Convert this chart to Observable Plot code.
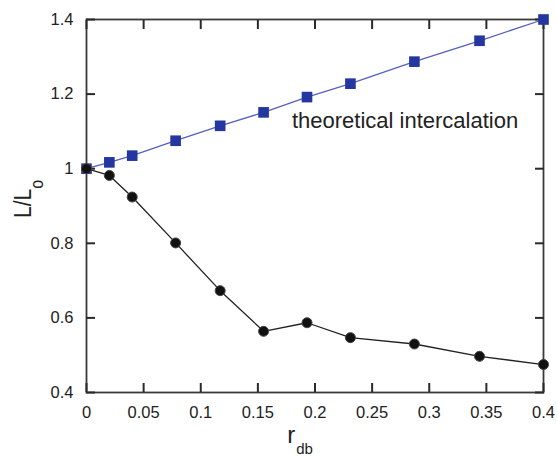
<!DOCTYPE html>
<html>
<head>
<meta charset="utf-8">
<script src="https://cdn.jsdelivr.net/npm/d3@7"></script>
<script src="https://cdn.jsdelivr.net/npm/@observablehq/plot@0.6"></script>
<style>
body { margin: 0; background: #fff; }
#chart svg { font-family: "Liberation Sans", Arial, sans-serif; }
</style>
</head>
<body>
<div id="chart"></div>
<script>
const rdb = [0, 0.02, 0.04, 0.078, 0.117, 0.155, 0.193, 0.231, 0.287, 0.344, 0.4];
const theoretical = [1.0, 1.017, 1.035, 1.075, 1.115, 1.151, 1.192, 1.228, 1.287, 1.343, 1.4];
const measured = [1.0, 0.982, 0.924, 0.801, 0.673, 0.564, 0.587, 0.547, 0.530, 0.497, 0.475];
const xTicks = [0, 0.05, 0.1, 0.15, 0.2, 0.25, 0.3, 0.35, 0.4];
const yTicks = [0.4, 0.6, 0.8, 1, 1.2, 1.4];
const annotation = "theoretical intercalation";

const theo = rdb.map((x, i) => ({x, y: theoretical[i]}));
const meas = rdb.map((x, i) => ({x, y: measured[i]}));

const W = 557, H = 458;
const tk = {tickSize: 9, stroke: "#2a2a2a", strokeWidth: 2, tickFormat: () => "", label: null};
const plot = Plot.plot({
  width: W,
  height: H,
  marginLeft: 86,
  marginRight: 14,
  marginTop: 19,
  marginBottom: 66,
  style: {fontSize: "16.5px", color: "#222", background: "#fff", fontFamily: "Liberation Sans, Arial, sans-serif"},
  x: {domain: [0, 0.4]},
  y: {domain: [0.4, 1.4]},
  marks: [
    // tick labels
    Plot.axisX({anchor: "bottom", ticks: xTicks, tickSize: 0, tickPadding: 14, tickFormat: d => String(d), label: null, fontSize: 16.5, fill: "#222"}),
    Plot.axisY({anchor: "left", ticks: yTicks, tickSize: 0, tickPadding: 13, tickFormat: d => String(d), label: null, fontSize: 16.5, fill: "#222"}),
    Plot.frame({stroke: "#3a3a3a", strokeWidth: 1.8, fill: "none"}),
    // inward ticks on all four sides
    Plot.axisX({...tk, anchor: "bottom", ticks: xTicks, dy: -9}),
    Plot.axisX({...tk, anchor: "top", ticks: xTicks, dy: 9}),
    Plot.axisY({...tk, anchor: "left", ticks: yTicks, dx: 9}),
    Plot.axisY({...tk, anchor: "right", ticks: yTicks, dx: -9}),
    Plot.line(theo, {x: "x", y: "y", stroke: "#5560c0", strokeWidth: 1.3}),
    Plot.dot(theo, {x: "x", y: "y", symbol: "square", r: 6, fill: "#2636a0", stroke: "none"}),
    Plot.line(meas, {x: "x", y: "y", stroke: "#222", strokeWidth: 1.3}),
    Plot.dot(meas, {x: "x", y: "y", r: 5, fill: "#111", stroke: "#444", strokeWidth: 1}),
    Plot.text([annotation], {x: 0.2788, y: 1.127, text: d => d, fontSize: 22, fill: "#222", textAnchor: "middle"})
  ]
});
document.getElementById("chart").appendChild(plot);

const svg = d3.select(plot);
// y-axis label L/L_o
const yl = svg.append("text")
  .attr("transform", "translate(31,218) rotate(-90) scale(0.88,1)")
  .attr("text-anchor", "start")
  .attr("fill", "#222")
  .attr("font-size", 24);
yl.append("tspan").text("L/L");
yl.append("tspan").attr("dy", 12).attr("font-size", 18).text("o");

// x-axis label r_db
const xl = svg.append("text")
  .attr("x", 300)
  .attr("y", 443)
  .attr("fill", "#222")
  .attr("font-size", 24);
xl.append("tspan").text("r");
xl.append("tspan").attr("dx", 1).attr("dy", 11).attr("font-size", 15).text("db");
</script>
</body>
</html>
